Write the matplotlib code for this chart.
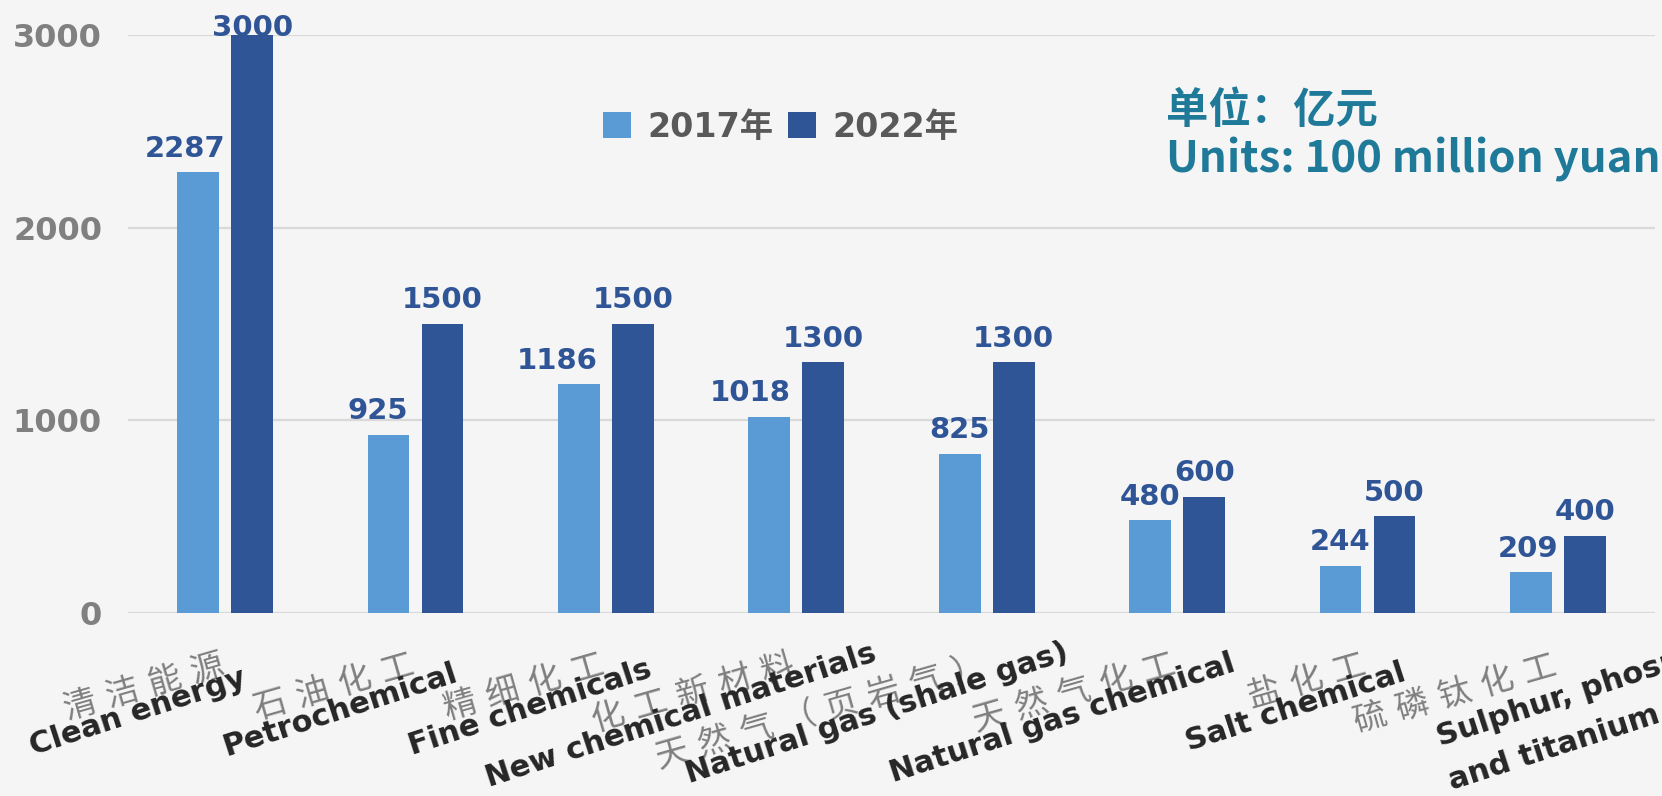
import matplotlib
matplotlib.use('Agg')
import matplotlib.pyplot as plt
import numpy as np
from matplotlib.patches import Patch

# ---------------- data ----------------
categories_cn = ['清洁能源', '石油化工', '精细化工', '化工新材料', '天然气（页岩气）',
                 '天然气化工', '盐化工', '硫磷钛化工']
categories_en = ['Clean energy', 'Petrochemical', 'Fine chemicals', 'New chemical materials',
                 'Natural gas (shale gas)', 'Natural gas chemical', 'Salt chemical',
                 'Sulphur, phosphorus\nand titanium chemical']
values_2017 = [2287, 925, 1186, 1018, 825, 480, 244, 209]
values_2022 = [3000, 1500, 1500, 1300, 1300, 600, 500, 400]
series_names = ['2017年', '2022年']
y_ticks = [0, 1000, 2000, 3000]
unit_cn = '单位：亿元'
unit_en = 'Units: 100 million yuan'

# ---------------- style ----------------
BG = '#F5F5F5'
C17 = '#5B9BD5'
C22 = '#2F5597'
GRID = '#D9D9D9'
TEAL = '#1F7A9A'
PX = 0.72  # points per pixel at dpi=100
ROT_EN = 18
ROT_CN = 16

W, H = 1662, 796
fig = plt.figure(figsize=(W / 100, H / 100), dpi=100, facecolor=BG)
ax_l, ax_r, ax_t, ax_b = 128, 1655, 35, 612.7
ax = fig.add_axes([ax_l / W, 1 - ax_b / H, (ax_r - ax_l) / W, (ax_b - ax_t) / H])
ax.set_facecolor(BG)

x = np.arange(len(categories_cn))
bw = 0.22
off = 0.142
ax.bar(x - off, values_2017, bw, color=C17, zorder=3)
ax.bar(x + off, values_2022, bw, color=C22, zorder=3)

ax.set_xlim(-0.51, 7.51)
ax.set_ylim(0, 3000)
ax.set_yticks(y_ticks)
ax.set_yticklabels([str(v) for v in y_ticks])
ax.yaxis.grid(True, color=GRID, lw=1.6, zorder=0)
ax.set_axisbelow(True)
for s in ax.spines.values():
    s.set_visible(False)
ax.tick_params(axis='y', length=0, pad=26 * PX, labelsize=23, labelcolor='#808080')
for t in ax.get_yticklabels():
    t.set_fontweight('bold')
    t.set_fontfamily('DejaVu Sans')
ax.set_xticks(x)
ax.tick_params(axis='x', length=0, labelbottom=False)

# value labels
label_dx_2017 = [-13, -11, -22, -19, 0, 0, 0, -3]
ymax = ax.get_ylim()[1]
for i, v in enumerate(values_2017):
    ax.annotate(str(v), xy=(x[i] - off, v), xytext=(label_dx_2017[i] * PX, 7),
                textcoords='offset points', ha='center', va='bottom', fontsize=21,
                fontweight='bold', color=C22, family='DejaVu Sans', annotation_clip=False)
for i, v in enumerate(values_2022):
    yo = 7 if v < ymax else -5
    ax.annotate(str(v), xy=(x[i] + off, v), xytext=(0, yo),
                textcoords='offset points', ha='center', va='bottom', fontsize=21,
                fontweight='bold', color=C22, family='DejaVu Sans', annotation_clip=False)

# category labels (Chinese line + English line)
cjk = ['Noto Sans CJK SC', 'DejaVu Sans']
cjk_spaced = ['DejaVu Sans', 'Noto Sans CJK SC']  # wider space glyph from DejaVu
for i, cn in enumerate(categories_cn):
    spaced = ' '.join(list(cn))
    ax.annotate(spaced, xy=(x[i], 0), xycoords=('data', 'axes fraction'),
                xytext=(-2 * PX, -52 * PX), textcoords='offset points',
                rotation=ROT_CN, rotation_mode='anchor', ha='right', va='center',
                fontsize=24, color='#7F7F7F', family=cjk_spaced, annotation_clip=False)

en_pos = [[(-87, 100)], [(-75, 97)], [(-76, 95)], [(-115, 103)], [(-110, 101)],
          [(-115, 106)], [(-72, 95)], [(-118, 134), (-106, 177)]]
for i, en in enumerate(categories_en):
    lines = en.split('\n')
    for j, line in enumerate(lines):
        dx, dy = en_pos[i][j]
        if len(lines) == 1:
            ha, va = 'center', 'center'
        else:
            ha, va = 'left', 'baseline'
        ax.annotate(line, xy=(x[i], 0), xycoords=('data', 'axes fraction'),
                    xytext=(dx * PX, -dy * PX), textcoords='offset points',
                    rotation=ROT_EN, rotation_mode='anchor', ha=ha, va=va,
                    fontsize=22, fontweight='bold', color='#262626',
                    family='DejaVu Sans', annotation_clip=False)

# legend
handles = [Patch(facecolor=C17), Patch(facecolor=C22)]
leg = fig.legend(handles, series_names, loc='center left',
                 bbox_to_anchor=(603 / W, 1 - 127 / H), ncol=2, frameon=False,
                 prop=dict(family=['DejaVu Sans', 'Noto Sans CJK SC'], weight='bold', size=24),
                 handlelength=0.84, handleheight=0.84, handletextpad=0.48,
                 columnspacing=0.45, borderpad=0, borderaxespad=0)
for t in leg.get_texts():
    t.set_color('#595959')

# units
fig.text(1166 / W, 1 - 90 / H, unit_cn, ha='left', va='top', fontsize=30.5,
         fontweight='bold', color=TEAL, family=cjk)
fig.text(1166 / W, 1 - 137 / H, unit_en, ha='left', va='top', fontsize=31.5,
         fontweight='bold', color=TEAL, family=cjk)

fig.savefig('out.png', dpi=100, facecolor=BG)
